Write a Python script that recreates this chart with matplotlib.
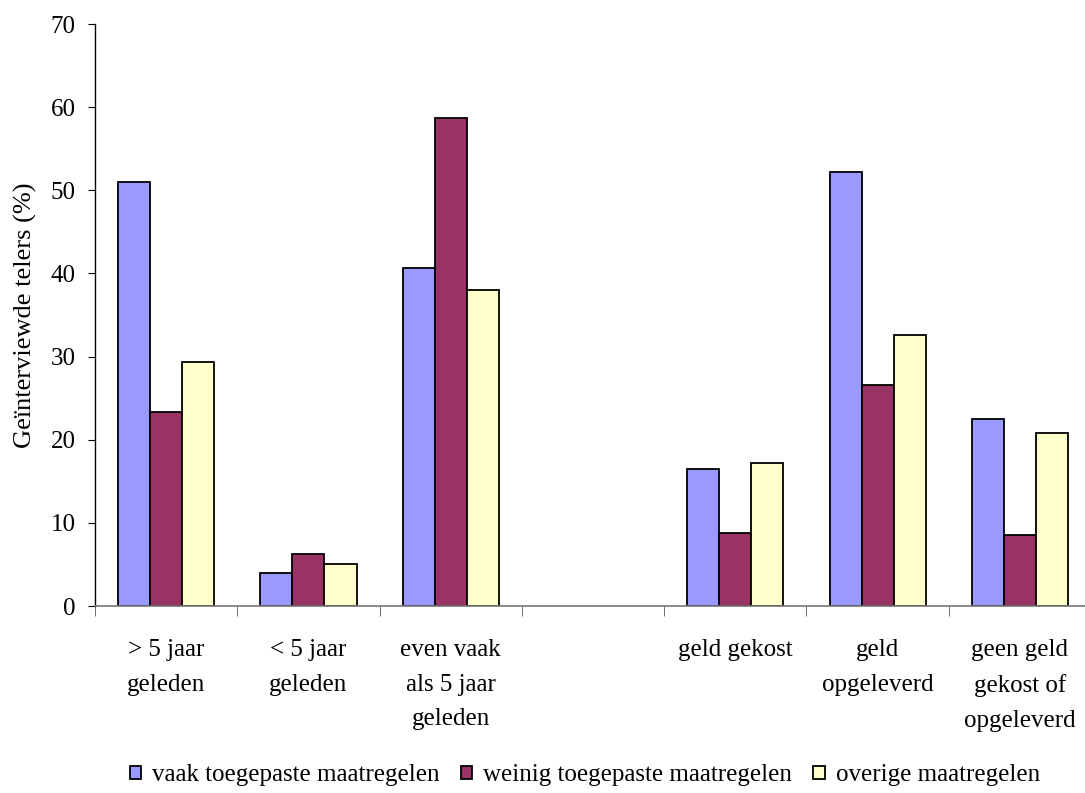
import matplotlib
matplotlib.use("Agg")
import matplotlib.pyplot as plt
import numpy as np

categories = ["> 5 jaar\ngeleden", "< 5 jaar\ngeleden", "even vaak\nals 5 jaar\ngeleden", "",
              "geld gekost", "geld\nopgeleverd", "geen geld\ngekost of\nopgeleverd"]
vaak = [51.0, 4.0, 40.6, np.nan, 16.5, 52.2, 22.5]
weinig = [23.3, 6.2, 58.7, np.nan, 8.8, 26.6, 8.6]
overig = [29.3, 5.0, 38.0, np.nan, 17.2, 32.6, 20.8]
series_names = ["vaak toegepaste maatregelen", "weinig toegepaste maatregelen", "overige maatregelen"]
colors = ["#9999FF", "#993366", "#FFFFCC"]

plt.rcParams['font.family'] = ['Liberation Serif', 'DejaVu Serif']

fig = plt.figure(figsize=(10.85, 7.93), dpi=100)
# axis runs on slightly past the right edge, as in the original
ax = fig.add_axes([0.0876, 0.2358, 0.918, 0.7339])

x = np.arange(len(categories))
w = 0.225
for k, vals in enumerate([vaak, weinig, overig]):
	ax.bar(x + (k - 1) * w, vals, width=w, color=colors[k], edgecolor="black",
		linewidth=1.3, label=series_names[k])

ax.set_xlim(-0.5, len(categories) - 0.5)
ax.set_ylim(0, 70)
ax.set_yticks(np.arange(0, 71, 10))
ax.tick_params(axis="y", labelsize=18, length=5, direction="out", pad=9)

# labels at centres, tick marks between categories
ax.set_xticks(x)
ax.set_xticklabels(categories, fontsize=18, linespacing=1.72, va="top")
ax.tick_params(axis="x", which="major", length=0, pad=24)
ax.set_xticks(np.arange(-0.5, len(categories), 1.0), minor=True)
ax.tick_params(axis="x", which="minor", length=7, color="#555555")

for s in ["top", "right"]:
	ax.spines[s].set_visible(False)
ax.spines["bottom"].set_color("#777777")
ax.spines["bottom"].set_linewidth(1.2)
ax.spines["left"].set_linewidth(1.0)

ax.set_ylabel("Geïnterviewde telers (%)", fontsize=19, labelpad=10)

fig.legend(loc="lower center", bbox_to_anchor=(0.539, -0.02), ncol=3, frameon=False,
	fontsize=18, handlelength=0.45, handleheight=0.45, handletextpad=0.45, columnspacing=0.85)

fig.savefig("out.png", dpi=100)
